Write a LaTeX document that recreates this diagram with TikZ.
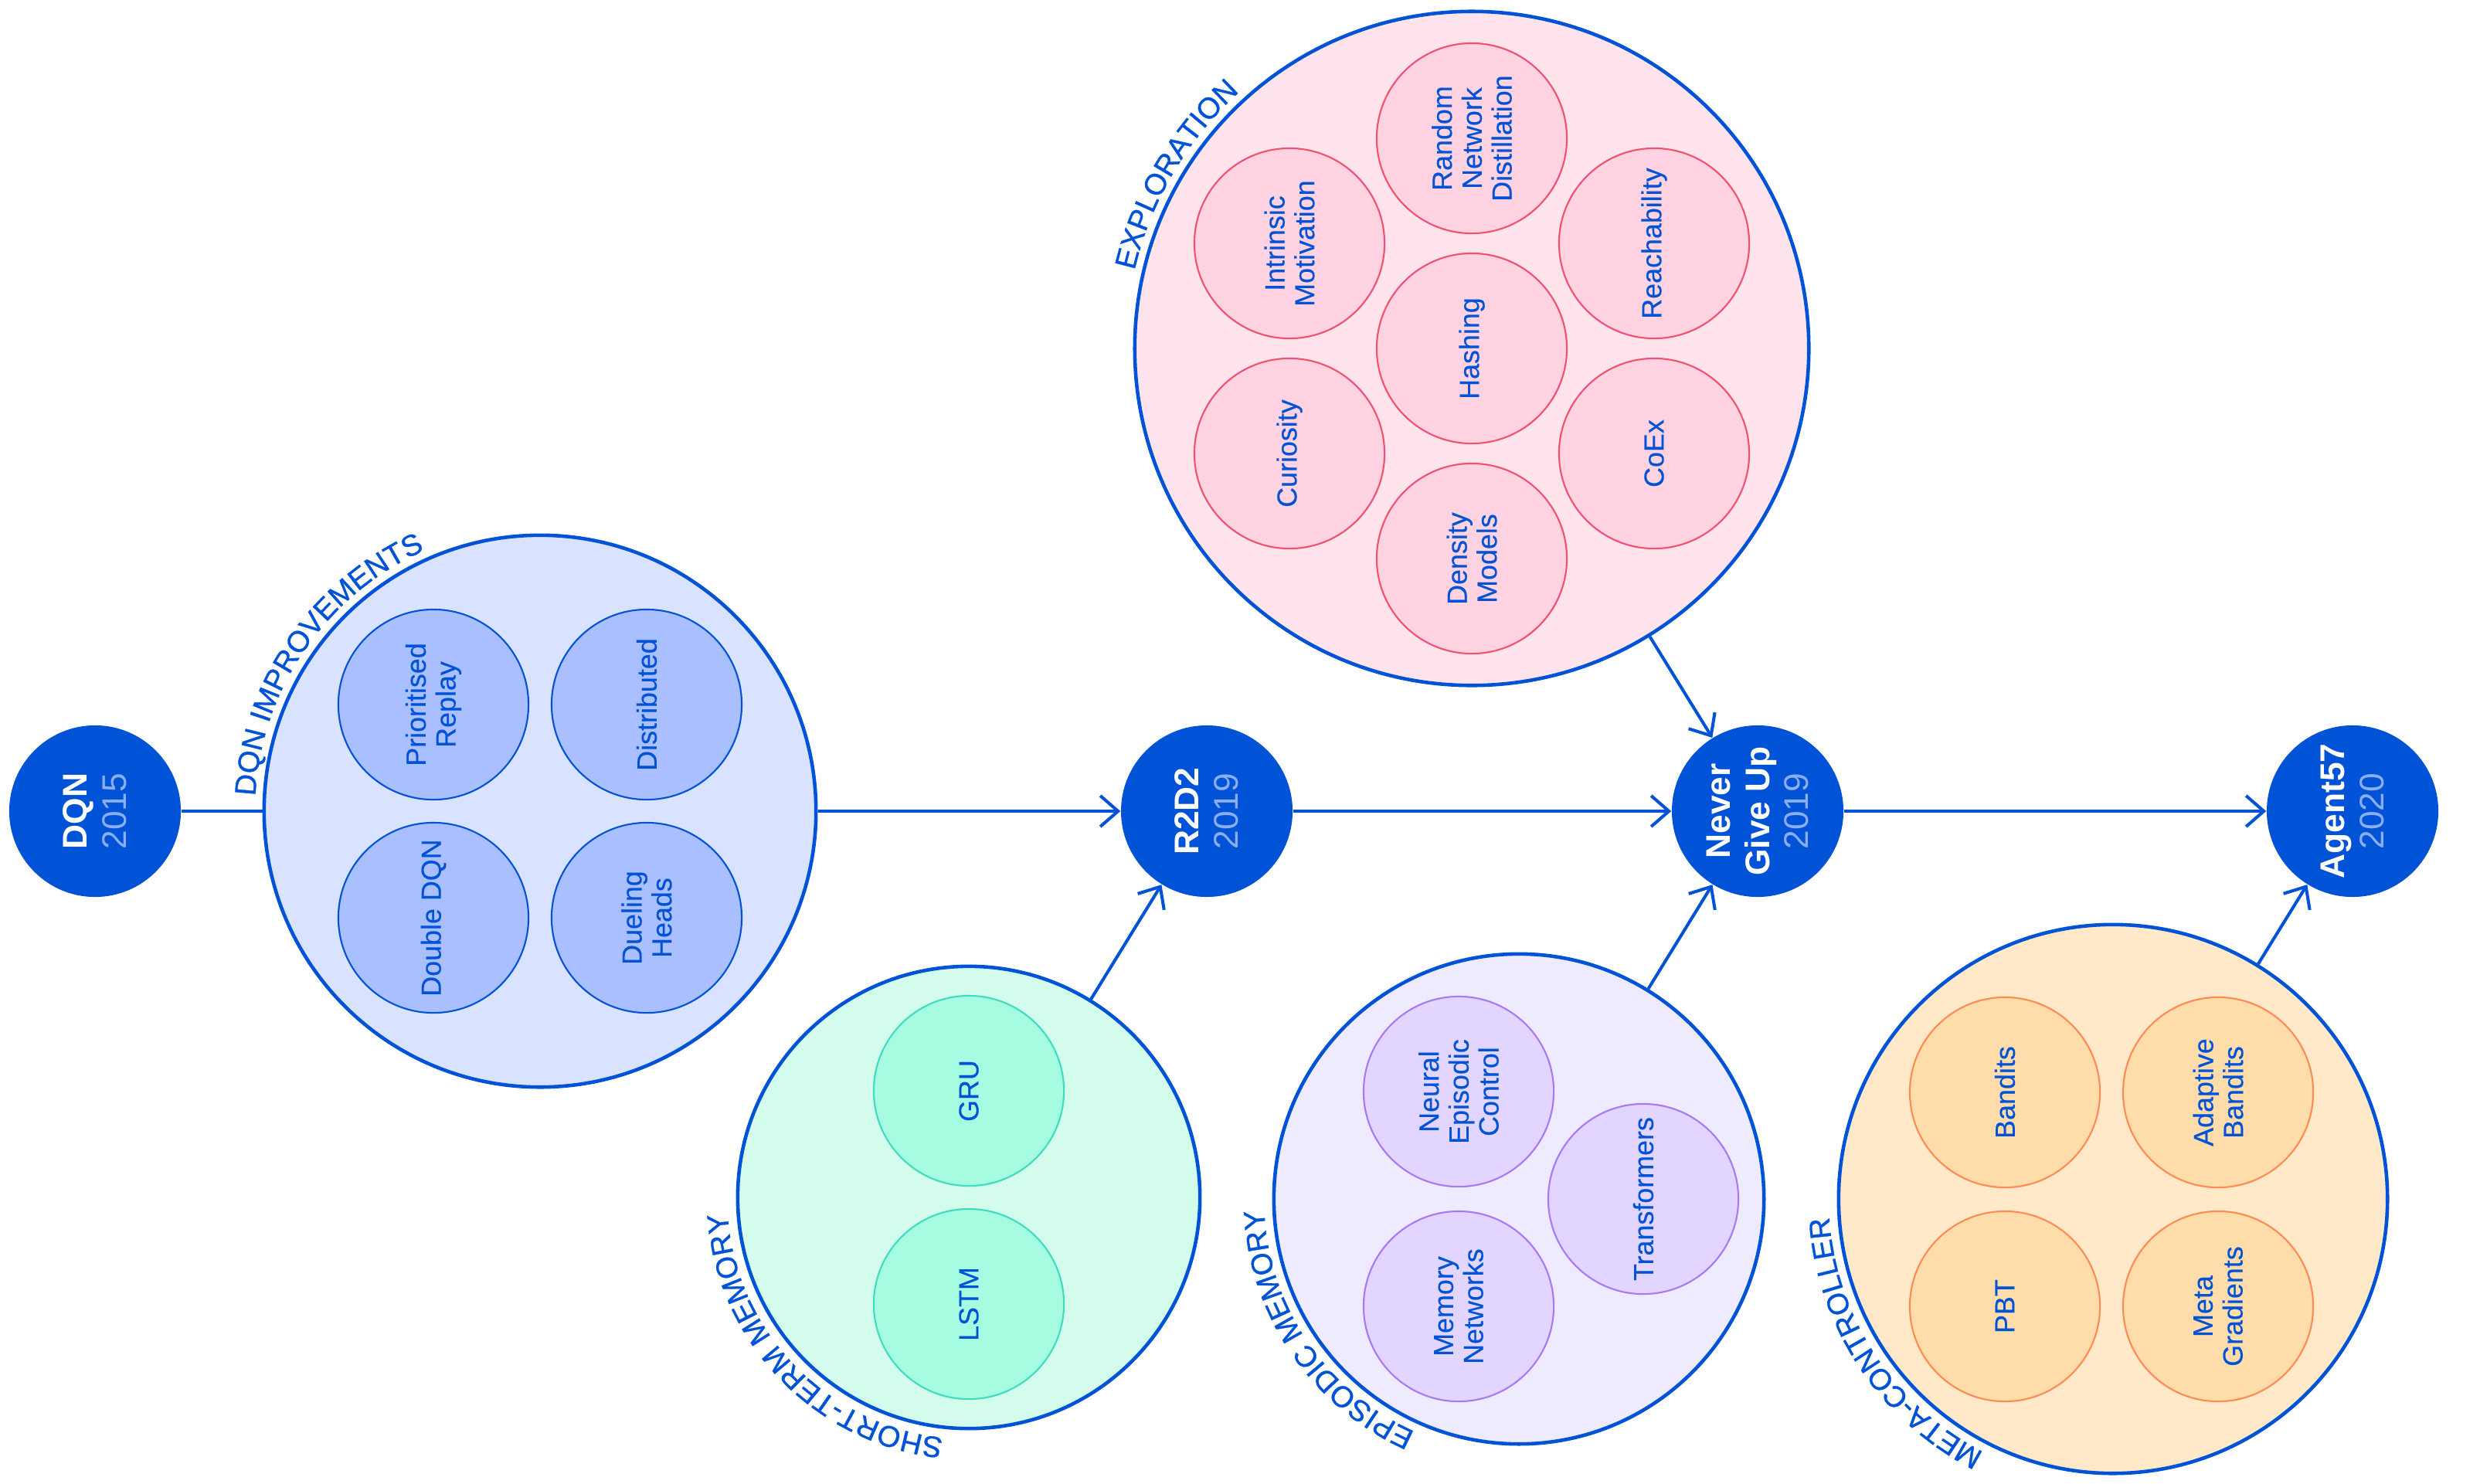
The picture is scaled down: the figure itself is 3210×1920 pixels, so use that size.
\documentclass[tikz,border=0pt]{standalone}
\usepackage{fontspec}
\setmainfont{Liberation Sans}
\newfontfamily\grpfont[FakeBold=0.8]{Liberation Sans}
\newfontfamily\ideafont[FakeBold=0.3]{Liberation Sans}
\usetikzlibrary{arrows.meta,decorations.text}

\definecolor{dmblue}{HTML}{0052D6}
\definecolor{yearblue}{HTML}{8AAEF2}
\definecolor{impfill}{HTML}{D9E3FF}
\definecolor{impdot}{HTML}{A9BFFF}
\definecolor{stmfill}{HTML}{D4FCEC}
\definecolor{stmdot}{HTML}{A6FCE0}
\definecolor{stmline}{HTML}{40DCC0}
\definecolor{epifill}{HTML}{EEEAFF}
\definecolor{epidot}{HTML}{E2D5FF}
\definecolor{epiline}{HTML}{A878F5}
\definecolor{metafill}{HTML}{FFE9C9}
\definecolor{metadot}{HTML}{FFDDAB}
\definecolor{metaline}{HTML}{FF8A52}
\definecolor{expfill}{HTML}{FFE4EE}
\definecolor{expdot}{HTML}{FFD3E2}
\definecolor{expline}{HTML}{F2506E}

\newcommand{\grplabelfont}{\grpfont\fontsize{10.9}{12}\selectfont}
\newcommand{\yr}[1]{{\mdseries\color{yearblue}#1}}

\tikzset{
  milestone/.style={circle, fill=dmblue, minimum size=2.22cm, inner sep=0pt,
    rotate=90, align=center, text=white,
    font=\fontsize{12.6}{14.4}\selectfont\bfseries},
  group/.style={circle, draw=dmblue, line width=1.3pt, inner sep=0pt},
  idea/.style={circle, line width=0.6pt, minimum size=2.46cm, inner sep=0pt,
    rotate=90, align=center, text=dmblue, font=\ideafont\fontsize{10.2}{11}\selectfont},
  link/.style={dmblue, line width=1.15pt},
  flow/.style={link, -{Straight Barb[length=0.23cm, width=0.4cm]}},
  grouplabel/.style={decorate, decoration={text along path, text color=dmblue, text align=left}},
}

\begin{document}
\begin{tikzpicture}[x=0.01cm, y=0.01cm]
    % --- 画布 ---
    \useasboundingbox (0,0) rectangle (3210,-1920);

    % --- 时间线上的节点 ---
    \node[milestone] (dqn)   at (123,-1050)  {DQN\\\yr{2015}};
    \node[milestone] (r2d2)  at (1562,-1050) {R2D2\\\yr{2019}};
    \node[milestone] (ngu)   at (2275,-1050) {Never\\Give Up\\\yr{2019}};
    \node[milestone] (agent) at (3045,-1050) {Agent57\\\yr{2020}};

    % --- 大圆 (分组) ---
    \node[group, fill=impfill, minimum size=7.14cm]  (dqnimp)   at (699,-1050)  {};
    \node[group, fill=stmfill, minimum size=5.98cm]  (stm)      at (1254,-1550) {};
    \node[group, fill=epifill, minimum size=6.34cm]  (episodic) at (1966,-1552) {};
    \node[group, fill=metafill, minimum size=7.10cm] (meta)     at (2735,-1552) {};
    \node[group, fill=expfill, minimum size=8.72cm]  (explore)  at (1905,-451)  {};

    % --- 连线 ---
    \draw[link] (dqn) -- (dqnimp);
    \draw[flow] (dqnimp) -- (r2d2);
    \draw[flow] (stm) -- (r2d2);
    \draw[flow] (r2d2) -- (ngu);
    \draw[flow] (explore) -- (ngu);
    \draw[flow] (episodic) -- (ngu);
    \draw[flow] (ngu) -- (agent);
    \draw[flow] (meta) -- (agent);

    % --- DQN improvements ---
    \node[idea, fill=impdot, draw=dmblue] (prio)  at (561,-912)  {Prioritised\\Replay};
    \node[idea, fill=impdot, draw=dmblue] (dist)  at (837,-912)  {Distributed};
    \node[idea, fill=impdot, draw=dmblue] (ddqn)  at (561,-1188) {Double DQN};
    \node[idea, fill=impdot, draw=dmblue] (duel)  at (837,-1188) {Dueling\\Heads};

    % --- short-term memory ---
    \node[idea, fill=stmdot, draw=stmline] (gru)  at (1254,-1412) {GRU};
    \node[idea, fill=stmdot, draw=stmline] (lstm) at (1254,-1688) {LSTM};

    % --- episodic memory ---
    \node[idea, fill=epidot, draw=epiline] (nec)   at (1888,-1413) {Neural\\Episodic\\Control};
    \node[idea, fill=epidot, draw=epiline] (memnn) at (1888,-1691) {Memory\\Networks};
    \node[idea, fill=epidot, draw=epiline] (trans) at (2127,-1552) {Transformers};

    % --- meta-controller ---
    \node[idea, fill=metadot, draw=metaline] (band)  at (2595,-1414) {Bandits};
    \node[idea, fill=metadot, draw=metaline] (aband) at (2871,-1414) {Adaptive\\Bandits};
    \node[idea, fill=metadot, draw=metaline] (pbt)   at (2595,-1691) {PBT};
    \node[idea, fill=metadot, draw=metaline] (mgrad) at (2871,-1691) {Meta\\Gradients};

    % --- exploration (六边形排列) ---
    \node[idea, fill=expdot, draw=expline] (hash)   at (1905,-451) {Hashing};
    \node[idea, fill=expdot, draw=expline] (rnd)    at (1905,-179) {Random\\Network\\Distillation};
    \node[idea, fill=expdot, draw=expline] (intr)   at (1669,-315) {Intrinsic\\Motivation};
    \node[idea, fill=expdot, draw=expline] (reach)  at (2141,-315) {Reachability};
    \node[idea, fill=expdot, draw=expline] (curio)  at (1669,-587) {Curiosity};
    \node[idea, fill=expdot, draw=expline] (coex)   at (2141,-587) {CoEx};
    \node[idea, fill=expdot, draw=expline] (dens)   at (1905,-723) {Density\\Models};

    % --- 圈外的弧形标签 ---
    \path[grouplabel, decoration={text={|\grplabelfont|DQN IMPROVEMENTS}}]
        (dqnimp.center) ++(177:369) arc[start angle=177, end angle=60, radius=369];
    \path[grouplabel, decoration={text={|\grplabelfont|EXPLORATION}}]
        (explore.center) ++(167:448) arc[start angle=167, end angle=60, radius=448];
    \path[grouplabel, decoration={text={|\grplabelfont|SHORT-TERM MEMORY}}]
        (stm.center) ++(264:313) arc[start angle=264, end angle=150, radius=313];
    \path[grouplabel, decoration={text={|\grplabelfont|EPISODIC MEMORY}}]
        (episodic.center) ++(246:330) arc[start angle=246, end angle=150, radius=330];
    \path[grouplabel, decoration={text={|\grplabelfont|META-CONTROLLER}}]
        (meta.center) ++(243:368) arc[start angle=243, end angle=150, radius=368];

\end{tikzpicture}
\end{document}
